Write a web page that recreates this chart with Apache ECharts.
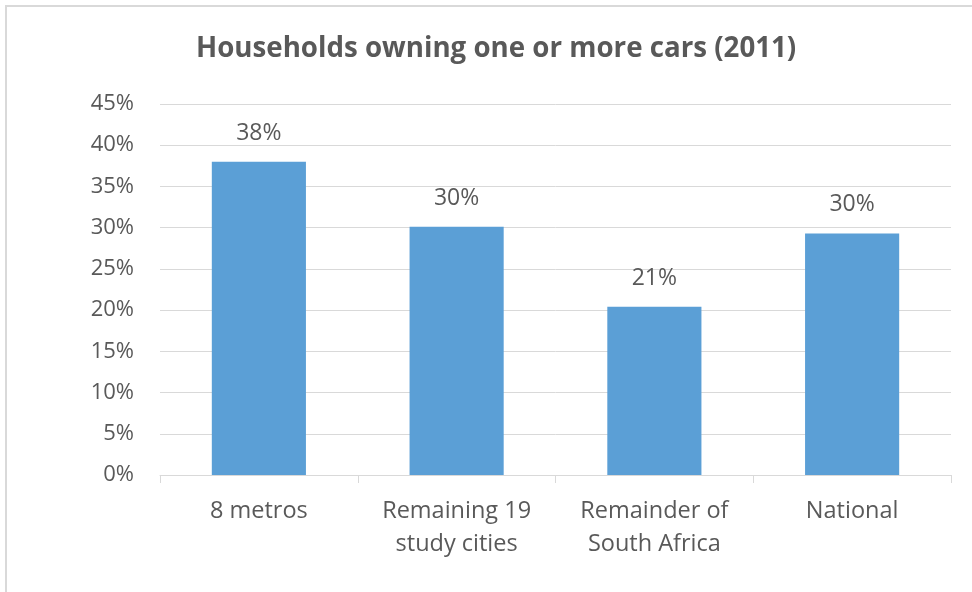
<!DOCTYPE html>
<html>
<head>
<meta charset="utf-8">
<style>
html,body{margin:0;padding:0;background:#fff;}
#chart{width:972px;height:592px;}
</style>
<script src="https://cdn.jsdelivr.net/npm/echarts@6/dist/echarts.min.js"></script>
</head>
<body>
<div id="chart"></div>
<script>
const categories = ['8 metros', 'Remaining 19\nstudy cities', 'Remainder of\nSouth Africa', 'National'];
const values = [38.0, 30.1, 20.4, 29.3];
const dataLabels = ['38%', '30%', '21%', '30%'];
const yTicks = [0, 5, 10, 15, 20, 25, 30, 35, 40, 45];

const chart = echarts.init(document.getElementById('chart'), null, {renderer: 'canvas'});
const font = '"Open Sans", Lato, sans-serif';
chart.setOption({
  animation: false,
  backgroundColor: '#ffffff',
  graphic: [{
    type: 'polyline',
    shape: {points: [[6, 600], [6, 6], [980, 6]]},
    style: {stroke: '#d9d9d9', lineWidth: 2, fill: null},
    silent: true
  }],
  title: {
    text: 'Households owning one or more cars (2011)',
    left: 191,
    top: 30,
    textStyle: {fontFamily: font, fontSize: 27.7, fontWeight: 'bold', color: '#595959'}
  },
  grid: {left: 160, right: 21, top: 104, bottom: 117, containLabel: false},
  xAxis: {
    type: 'category',
    data: categories,
    axisLine: {lineStyle: {color: '#d9d9d9', width: 1}},
    axisTick: {show: true, length: 8, lineStyle: {color: '#d9d9d9'}},
    axisLabel: {fontFamily: font, fontSize: 23.5, color: '#595959', margin: 20, lineHeight: 33}
  },
  yAxis: {
    type: 'value',
    min: yTicks[0],
    max: yTicks[yTicks.length - 1],
    interval: 5,
    axisLine: {show: false},
    axisTick: {show: false},
    splitLine: {lineStyle: {color: '#d9d9d9', width: 1}},
    axisLabel: {fontFamily: font, fontSize: 22, color: '#595959', margin: 26, formatter: v => v + '%'}
  },
  series: [{
    type: 'bar',
    data: values,
    barWidth: '47.6%',
    itemStyle: {color: '#5b9fd6'},
    label: {
      show: true,
      position: 'top',
      distance: 17,
      fontFamily: font,
      fontSize: 23,
      color: '#595959',
      formatter: p => dataLabels[p.dataIndex]
    }
  }]
});
</script>
</body>
</html>
